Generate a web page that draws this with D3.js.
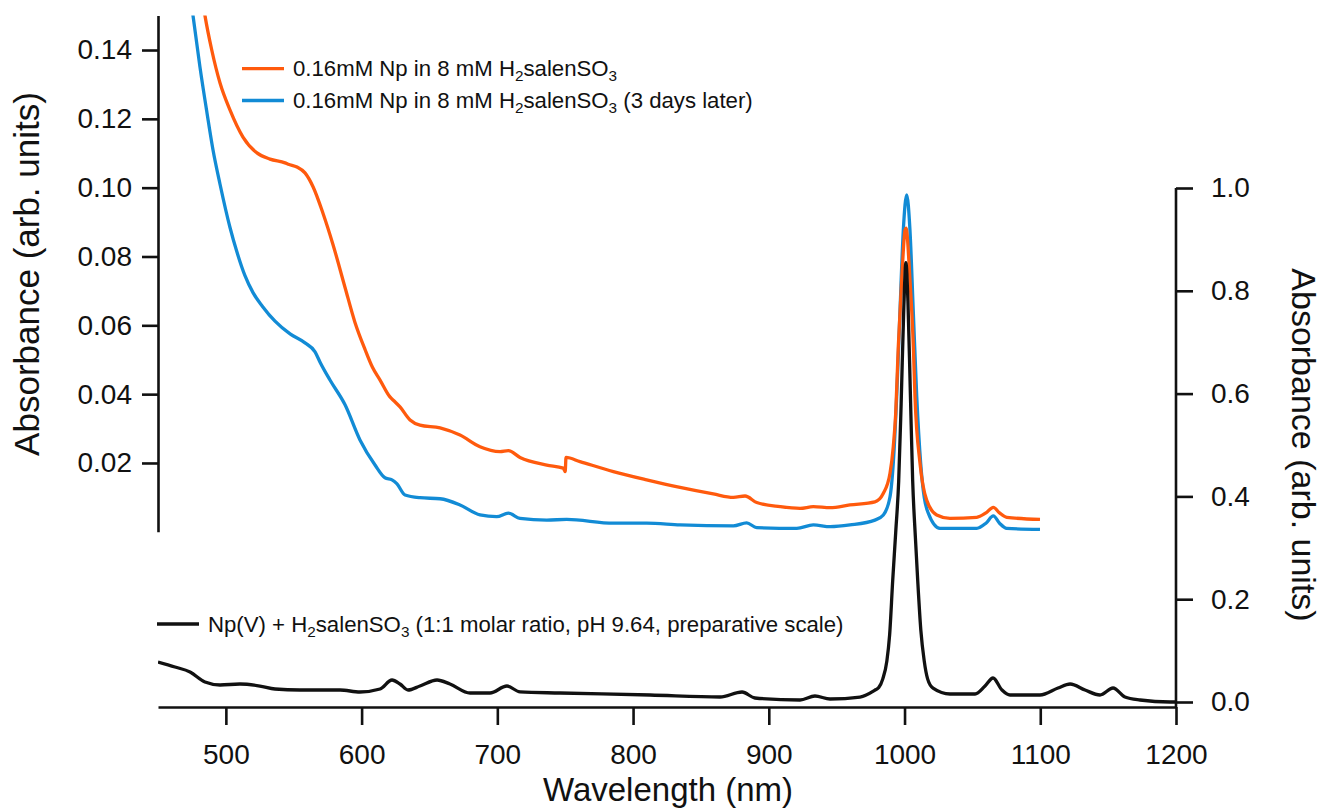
<!DOCTYPE html>
<html>
<head>
<meta charset="utf-8">
<script src="https://cdn.jsdelivr.net/npm/d3@7"></script>
<style>
  html, body { margin: 0; padding: 0; background: #fff; }
  svg { display: block; }
  text { font-family: "Liberation Sans", Arial, sans-serif; fill: #111; }
</style>
</head>
<body>
<svg id="chart" width="1326" height="809"></svg>
<script>
// ---------------- DATA ----------------
const xTicks = [500, 600, 700, 800, 900, 1000, 1100, 1200];
const leftTicks = [0.02, 0.04, 0.06, 0.08, 0.10, 0.12, 0.14];
const rightTicks = [0.0, 0.2, 0.4, 0.6, 0.8, 1.0];

const legendOrange = ["0.16mM Np in 8 mM H", "2", "salenSO", "3", ""];
const legendBlue = ["0.16mM Np in 8 mM H", "2", "salenSO", "3", " (3 days later)"];
const legendBlack = ["Np(V) + H", "2", "salenSO", "3", " (1:1 molar ratio, pH 9.64, preparative scale)"];

// [wavelength nm, absorbance]  (left axis)
const orangeData = [
  [470, 0.200], [478, 0.168], [484.6, 0.150], [489.6, 0.140], [495.7, 0.1304], [503, 0.1226],
  [512.6, 0.1147], [522.9, 0.1101], [532.5, 0.1083], [543.6, 0.1072], [546, 0.1068], [552.4, 0.1060],
  [558.3, 0.1043], [564.3, 0.1002], [571.6, 0.0925], [578.9, 0.0835], [587.8, 0.0710], [595, 0.0610],
  [602.5, 0.0530], [608, 0.0478], [613.6, 0.0441], [620.9, 0.0392], [624, 0.0380], [628.3, 0.0363],
  [635.7, 0.0325], [643, 0.0310], [657.8, 0.0302], [672.5, 0.0281], [687.2, 0.0247], [702, 0.0233],
  [708.1, 0.0236], [716.7, 0.0216], [736.4, 0.0194], [748.6, 0.0185], [750, 0.0175], [750.6, 0.0216],
  [760.9, 0.0204], [785.5, 0.0175], [810, 0.0151], [834.6, 0.0129], [859.1, 0.0110], [873.9, 0.0100],
  [882.5, 0.0104], [891.1, 0.0085], [908.3, 0.0073], [923, 0.0068], [932.8, 0.0073], [945.3, 0.0070],
  [959.8, 0.0078], [978.2, 0.0087], [984.4, 0.0112], [989.3, 0.0170], [991.7, 0.0247], [993.5, 0.0344],
  [995.4, 0.0538], [997.9, 0.0732], [1000.4, 0.0877], [1001.1, 0.0882], [1004, 0.0732], [1006.5, 0.0538],
  [1007.7, 0.0393], [1011.4, 0.0199], [1016.3, 0.0092], [1023.7, 0.0049], [1033.5, 0.0039],
  [1053.2, 0.0042], [1060, 0.0055], [1065.4, 0.0071], [1070, 0.0055], [1075.3, 0.0042], [1099.8, 0.0036]
];

// (left axis)
const blueData = [
  [462, 0.200], [470, 0.168], [475.8, 0.150], [480.9, 0.1351], [486.1, 0.1217], [490.5, 0.1110],
  [495.7, 0.1010], [503, 0.0885], [508, 0.0815], [514, 0.0745], [520, 0.0695], [527, 0.0655],
  [536.2, 0.0612], [547.3, 0.0575], [558.3, 0.0549], [565.7, 0.0523], [569.4, 0.0493], [576.7, 0.0441],
  [587.8, 0.0369], [598.8, 0.0267], [609.9, 0.0194], [617.2, 0.0157], [622.4, 0.0151], [626.1, 0.0139],
  [632, 0.0107], [643, 0.0099], [657.8, 0.0096], [672.5, 0.0078], [687.2, 0.0049], [699.5, 0.0044],
  [708.1, 0.0054], [716.7, 0.0039], [736.4, 0.0034], [751.1, 0.0036], [785.5, 0.0025], [810, 0.0025],
  [834.6, 0.0020], [873.9, 0.0017], [883.7, 0.0026], [891.1, 0.0012], [920.6, 0.0010], [932.8, 0.0020],
  [945.3, 0.0015], [959.8, 0.0020], [978.2, 0.0034], [984.4, 0.0049], [989.3, 0.0102], [991.7, 0.0199],
  [994.2, 0.0393], [996.6, 0.0635], [999.1, 0.0877], [1001.6, 0.0979], [1004, 0.0877], [1006.5, 0.0635],
  [1009, 0.0393], [1011.9, 0.0199], [1014.5, 0.0100], [1017.5, 0.0054], [1026.1, 0.0010],
  [1053.2, 0.0010], [1060, 0.0025], [1065.4, 0.0046], [1070, 0.0025], [1075.3, 0.0010], [1099.8, 0.0007]
];

// (right axis)
const blackData = [
  [450, 0.0778], [462.5, 0.0681], [473.6, 0.0584], [484.6, 0.0389], [495.7, 0.0331], [510.4, 0.0350],
  [525.1, 0.0311], [536.2, 0.0253], [554.6, 0.0233], [584.1, 0.0233], [598.8, 0.0195], [613.6, 0.0253],
  [622.4, 0.0428], [628.3, 0.0350], [634.2, 0.0233], [643, 0.0311], [655.6, 0.0428], [665.1, 0.0350],
  [679.9, 0.0175], [694.6, 0.0175], [707.1, 0.0311], [716.7, 0.0195], [746.2, 0.0175], [812.5, 0.0136],
  [864.1, 0.0097], [880.3, 0.0195], [889.8, 0.0078], [923, 0.0039], [934, 0.0117], [945.1, 0.0058],
  [967.2, 0.0097], [978.3, 0.0233], [981, 0.028], [984, 0.045], [987, 0.080], [989, 0.130],
  [991.3, 0.237], [993.5, 0.330], [995.7, 0.430], [997.5, 0.580], [999.5, 0.770], [1001, 0.855],
  [1002.5, 0.780], [1004.3, 0.600], [1006, 0.430], [1008, 0.320], [1009.7, 0.237], [1012, 0.140],
  [1014.5, 0.080], [1017, 0.045], [1021, 0.027], [1033.5, 0.0156], [1052, 0.0156], [1059.3, 0.0311],
  [1065.2, 0.0467], [1071.8, 0.0233], [1077.7, 0.0136], [1099.8, 0.0136], [1113.1, 0.0272],
  [1122, 0.0350], [1133, 0.0233], [1144, 0.0136], [1153.6, 0.0272], [1162.4, 0.0097], [1173.5, 0.0039],
  [1195.6, 0.0], [1200, 0.0]
];

// ---------------- LAYOUT ----------------
const svg = d3.select("#chart");
const xAxisY = 707;

const x = d3.scaleLinear().domain([450, 1200]).range([158, 1176]);
const yL = d3.scaleLinear().domain([0, 0.15]).range([531.8, 15.6]);
const yR = d3.scaleLinear().domain([0, 1]).range([702, 188]);

const ORANGE = "#FF5A0D", BLUE = "#128BD5", BLACK = "#111111";

svg.append("defs").append("clipPath").attr("id", "clipL")
  .append("rect").attr("x", x(450)).attr("y", yL(0.15))
  .attr("width", x(1200) - x(450)).attr("height", xAxisY - yL(0.15));

const lineL = d3.line().x(d => x(d[0])).y(d => yL(d[1])).curve(d3.curveMonotoneX);
const lineR = d3.line().x(d => x(d[0])).y(d => yR(d[1])).curve(d3.curveMonotoneX);

const plot = svg.append("g").attr("clip-path", "url(#clipL)");
plot.append("path").datum(blueData).attr("d", lineL)
  .attr("fill", "none").attr("stroke", BLUE).attr("stroke-width", 3.3).attr("stroke-linejoin", "round");
plot.append("path").datum(orangeData).attr("d", lineL)
  .attr("fill", "none").attr("stroke", ORANGE).attr("stroke-width", 3.3).attr("stroke-linejoin", "round");
plot.append("path").datum(blackData).attr("d", lineR)
  .attr("fill", "none").attr("stroke", BLACK).attr("stroke-width", 3.3).attr("stroke-linejoin", "round");

// ---------------- AXES ----------------
function styleAxis(g, fs) {
  g.selectAll("path, line").attr("stroke", "#111").attr("stroke-width", 2.6);
  g.selectAll("text").style("font-family", '"Liberation Sans", Arial, sans-serif')
    .style("font-size", fs + "px").attr("fill", "#111");
}

const gL = svg.append("g").attr("transform", `translate(${x(450)},0)`)
  .call(d3.axisLeft(yL).tickValues(leftTicks).tickFormat(d3.format(".2f"))
    .tickSize(16).tickSizeOuter(0).tickPadding(10));
styleAxis(gL, 28);

const gR = svg.append("g").attr("transform", `translate(${x(1200)},0)`)
  .call(d3.axisRight(yR).tickValues(rightTicks).tickFormat(d3.format(".1f"))
    .tickSize(17).tickSizeOuter(0).tickPadding(18));
gR.select(".domain").remove();
gR.append("line").attr("x1", 0).attr("x2", 0).attr("y1", yR(1)).attr("y2", xAxisY);
styleAxis(gR, 28);

const gX = svg.append("g").attr("transform", `translate(0,${xAxisY})`)
  .call(d3.axisBottom(x).tickValues(xTicks).tickFormat(d3.format("d"))
    .tickSize(18).tickSizeOuter(0).tickPadding(19));
styleAxis(gX, 28);

// ---------------- TITLES ----------------
svg.append("text").attr("transform", "translate(39,274) rotate(-90)")
  .attr("text-anchor", "middle").style("font-size", "35px").text("Absorbance (arb. units)");
svg.append("text").attr("transform", "translate(1292,445) rotate(90)")
  .attr("text-anchor", "middle").style("font-size", "34px").text("Absorbance (arb. units)");
svg.append("text").attr("x", 668).attr("y", 801)
  .attr("text-anchor", "middle").style("font-size", "33px").text("Wavelength (nm)");

// ---------------- LEGENDS ----------------
function legend(parts, color, lx, ly) {
  svg.append("line").attr("x1", lx).attr("x2", lx + 42).attr("y1", ly).attr("y2", ly)
    .attr("stroke", color).attr("stroke-width", 3.3);
  const t = svg.append("text").attr("x", lx + 51).attr("y", ly + 7.5).style("font-size", "22.2px");
  parts.forEach((p, i) => {
    if (!p) return;
    const sub = i === 1 || i === 3;
    const ts = t.append("tspan").text(p);
    if (sub) ts.style("font-size", "15.3px").attr("dy", 5);
    else if (i > 0) ts.attr("dy", -5);
  });
}
legend(legendOrange, ORANGE, 242, 68.6);
legend(legendBlue, BLUE, 242, 100.5);
legend(legendBlack, BLACK, 157, 624);
</script>
</body>
</html>
